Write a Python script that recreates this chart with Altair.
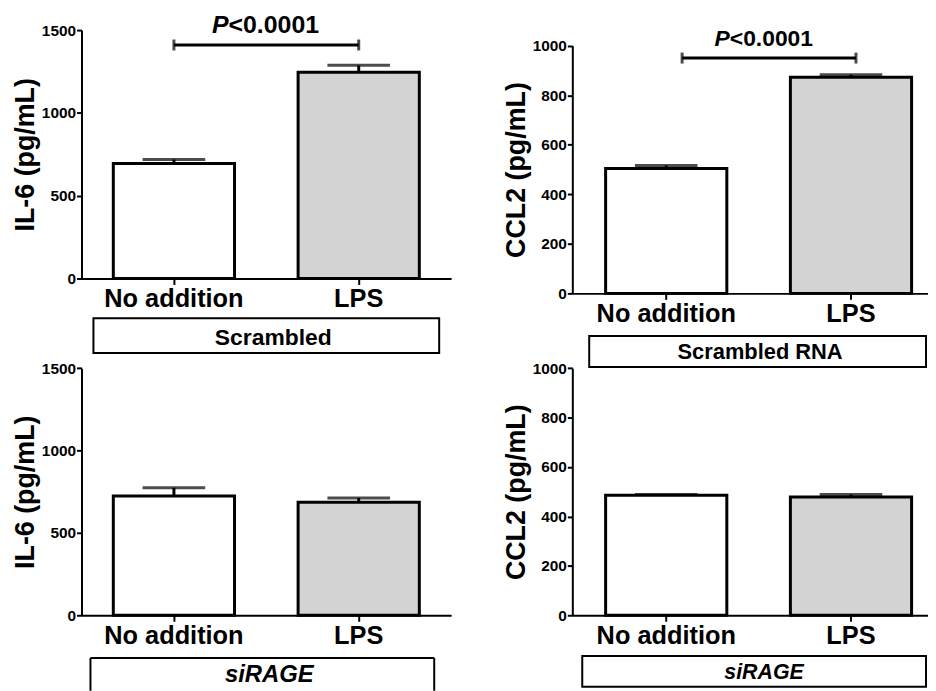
import altair as alt
import pandas as pd

FONT = "Liberation Sans"

categories = ["No addition", "LPS"]
bar_colors = ["#ffffff", "#d3d3d3"]

il6_scr_mean = [695, 1245]
il6_scr_err = [23, 42]
ccl2_scr_mean = [504, 873]
ccl2_scr_err = [12, 10]
il6_si_mean = [724, 686]
il6_si_err = [50, 26]
ccl2_si_mean = [486, 479]
ccl2_si_err = [3, 10]

il6_ticks = [0, 500, 1000, 1500]
ccl2_ticks = [0, 200, 400, 600, 800, 1000]

sig_text = "<0.0001"


def panel(means, errs, ytitle, ymax, yticks, yrange, width, height, xkw,
          box, box_label, box_italic, box_fs, label_pos, sig=None, open_box=False):
    df = pd.DataFrame({
        "cond": categories,
        "mean": means,
        "upper": [m + e for m, e in zip(means, errs)],
        "color": bar_colors,
    })
    xs = alt.Scale(domain=categories, **xkw)
    ys = alt.Scale(domain=[0, ymax], range=yrange, nice=False, zero=True)
    X = alt.X("cond:N", scale=xs, sort=categories, title=None,
              axis=alt.Axis(labelAngle=0))

    def Y(field):
        return alt.Y(field, type="quantitative", scale=ys, title=ytitle,
                     axis=alt.Axis(values=yticks, title=ytitle, format="d"))

    base = alt.Chart(df)
    bars = base.mark_bar(stroke="black", strokeWidth=3).encode(
        x=X, y=Y("mean"), y2=alt.datum(0),
        fill=alt.Fill("color:N", scale=None))
    err = base.mark_rule(strokeWidth=3, color="black").encode(
        x=X, y=Y("mean"), y2="upper:Q")
    cap = base.mark_tick(orient="horizontal", size=63, thickness=3,
                         color="black").encode(x=X, y=Y("upper"))
    layers = [bars, err, cap]

    one = pd.DataFrame({"k": [0]})
    if sig is not None:
        by, ty, fs, o1, o2, dxp = sig
        sdf = pd.DataFrame({"a": [categories[0]], "b": [categories[1]],
                            "by": [by], "ty": [ty]})
        sb = alt.Chart(sdf)
        layers.append(sb.mark_rule(strokeWidth=3, color="black",
                                   xOffset=o1, x2Offset=o2).encode(
            x=alt.X("a:N", scale=xs, sort=categories, title=None,
                    axis=alt.Axis(labelAngle=0)),
            x2="b:N", y=Y("by")))
        layers.append(sb.mark_tick(orient="vertical", size=11, thickness=3,
                                   color="black", xOffset=o1).encode(
            x=alt.X("a:N", scale=xs, sort=categories), y=Y("by")))
        layers.append(sb.mark_tick(orient="vertical", size=11, thickness=3,
                                   color="black", xOffset=o2).encode(
            x=alt.X("b:N", scale=xs, sort=categories), y=Y("by")))
        layers.append(sb.mark_text(text="P", font=FONT, fontWeight="bold",
                                   fontStyle="italic", fontSize=fs,
                                   align="right", baseline="alphabetic",
                                   dx=dxp, color="black").encode(
            x=alt.X("a:N", scale=xs, sort=categories), y=Y("ty")))
        layers.append(sb.mark_text(text=sig_text, font=FONT, fontWeight="bold",
                                   fontSize=fs, align="left",
                                   baseline="alphabetic", dx=dxp,
                                   color="black").encode(
            x=alt.X("a:N", scale=xs, sort=categories), y=Y("ty")))

    bx1, bx2, by1, by2 = box
    bc = alt.Chart(one)
    if open_box:
        layers.append(bc.mark_rule(color="black", strokeWidth=2).encode(
            x=alt.value(bx1), x2=alt.value(bx2), y=alt.value(by1)))
        layers.append(bc.mark_rule(color="black", strokeWidth=2).encode(
            x=alt.value(bx1), y=alt.value(by1), y2=alt.value(by2)))
        layers.append(bc.mark_rule(color="black", strokeWidth=2).encode(
            x=alt.value(bx2), y=alt.value(by1), y2=alt.value(by2)))
    else:
        layers.append(bc.mark_rect(fill="white", stroke="black",
                                   strokeWidth=2).encode(
            x=alt.value(bx1), x2=alt.value(bx2),
            y=alt.value(by1), y2=alt.value(by2)))
    lx, ly = label_pos
    layers.append(bc.mark_text(text=box_label, font=FONT, fontWeight="bold",
                               fontStyle="italic" if box_italic else "normal",
                               fontSize=box_fs, align="center",
                               baseline="alphabetic", color="black").encode(
        x=alt.value(lx), y=alt.value(ly)))

    return alt.layer(*layers).properties(width=width, height=height)


left_x = dict(paddingInner=0.344, paddingOuter=0.172)
right_x = dict(paddingInner=0.344, paddingOuter=0.1345, align=0.67)

tl = panel(il6_scr_mean, il6_scr_err, "IL-6 (pg/mL)", 1500, il6_ticks,
           [270, 20], 372, 270, left_x,
           (12, 360, 310, 345), "Scrambled", False, 23, (193, 337),
           sig=(1410, 1485, 25, 0, 0, 55))
tr = panel(ccl2_scr_mean, ccl2_scr_err, "CCL2 (pg/mL)", 1000, ccl2_ticks,
           [285, 35.7], 358, 285, right_x,
           (17, 356, 328, 359), "Scrambled RNA", False, 22, (189, 351),
           sig=(950, 1000, 23, 16, 5, 64))
bl = panel(il6_si_mean, il6_si_err, "IL-6 (pg/mL)", 1500, il6_ticks,
           [301, 52.3], 372, 301, left_x,
           (9, 355, 344, 377), "siRAGE", True, 24, (189, 368), open_box=True)
br = panel(ccl2_si_mean, ccl2_si_err, "CCL2 (pg/mL)", 1000, ccl2_ticks,
           [301, 52.3], 358, 301, right_x,
           (10, 356, 342, 373), "siRAGE", True, 21.5, (193, 365))

chart = alt.concat(
    tl, tr, bl, br, columns=2,
    spacing={"row": 23, "column": 122}, bounds="flush", align="each",
).properties(
    padding={"left": 3, "top": 0, "right": 0, "bottom": 0},
).configure_view(stroke=None).configure_axis(
    grid=False, domainColor="black", domainWidth=2, tickColor="black",
    tickWidth=2, labelColor="black", labelFont=FONT, labelFontWeight="bold",
    titleFont=FONT, titleFontWeight="bold", titleColor="black",
).configure_axisY(
    labelFontSize=15.5, tickSize=5, labelPadding=1, titleFontSize=27,
    titlePadding=2,
).configure_axisX(
    labelFontSize=25.5, tickSize=6, labelPadding=2,
)

chart.save("out.html", embed_options={"renderer": "svg", "actions": False})
